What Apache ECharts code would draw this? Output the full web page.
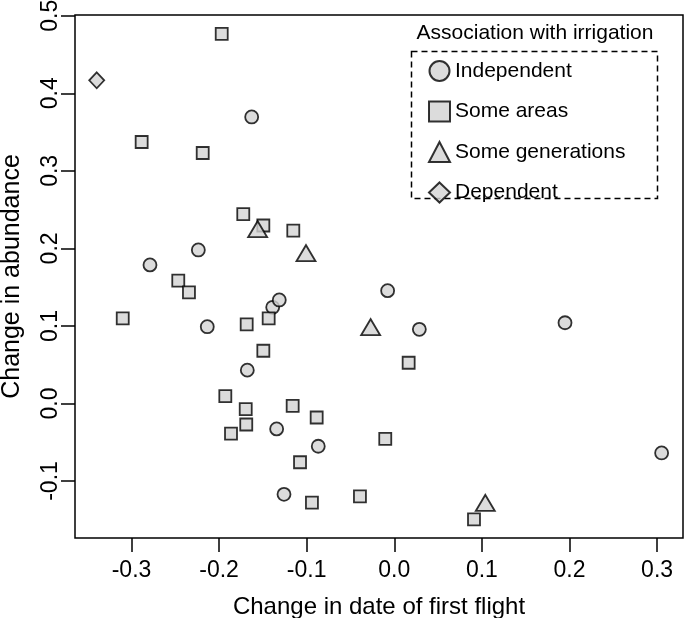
<!DOCTYPE html>
<html>
<head>
<meta charset="utf-8">
<script src="https://cdn.jsdelivr.net/npm/echarts@6/dist/echarts.min.js"></script>
<style>
html,body{margin:0;padding:0;background:#fff;}
#chart{width:685px;height:618px;}
</style>
</head>
<body>
<div id="chart"></div>
<script>
// ---- data (x = change in date of first flight, y = change in abundance) ----
const independent = [
  [-0.1628, 0.3695], [-0.2237, 0.198], [-0.2789, 0.1787], [-0.2135, 0.099],
  [-0.1388, 0.124], [-0.1313, 0.1335], [-0.1678, 0.043], [-0.1343, -0.0328],
  [-0.0868, -0.0552], [-0.1259, -0.1172], [-0.0076, 0.1455], [0.0286, 0.0956],
  [0.1949, 0.1041], [0.3052, -0.0638]
];
const someAreas = [
  [-0.197, 0.4767], [-0.2884, 0.3372], [-0.2187, 0.323], [-0.1724, 0.2442],
  [-0.1495, 0.2295], [-0.1153, 0.223], [-0.2466, 0.1584], [-0.2344, 0.1434],
  [-0.310, 0.1098], [-0.1685, 0.102], [-0.1434, 0.1098], [-0.1495, 0.068],
  [-0.1929, 0.0094], [-0.1696, -0.0074], [-0.169, -0.0271], [-0.1864, -0.0388],
  [-0.116, -0.0031], [-0.0886, -0.0181], [-0.1076, -0.0758], [-0.094, -0.128],
  [0.0164, 0.0525], [-0.0103, -0.0457], [-0.0392, -0.1198], [0.091, -0.1495]
];
const someGenerations = [
  [-0.156, 0.221], [-0.1008, 0.190], [-0.0270, 0.0946], [0.1039, -0.132]
];
const dependent = [
  [-0.3397, 0.4168]
];
const groupNames = ['Independent', 'Some areas', 'Some generations', 'Dependent'];
const xTicks = [-0.3, -0.2, -0.1, 0.0, 0.1, 0.2, 0.3];
const yTicks = [-0.1, 0.0, 0.1, 0.2, 0.3, 0.4, 0.5];
const xTitle = 'Change in date of first flight';
const yTitle = 'Change in abundance';
const legendTitle = 'Association with irrigation';

// ---- styling ----
const FONT = '"Liberation Sans", Arial, Helvetica, sans-serif';
const FILL = '#d3d3d3';
const pointStyle = { color: FILL, borderColor: '#000', borderWidth: 1.8 };

const chart = echarts.init(document.getElementById('chart'), null, { renderer: 'canvas' });

function scatter(name, data, symbol, size, offset) {
  return {
    name: name, type: 'scatter', data: data,
    symbol: symbol, symbolSize: size, symbolOffset: offset || [0, 0],
    itemStyle: pointStyle,
    emphasis: { disabled: true },
    animation: false
  };
}

const fmt = v => (Math.abs(v) < 1e-9 ? 0 : v).toFixed(1);

chart.setOption({
  animation: false,
  textStyle: { fontFamily: FONT },
  grid: {
    left: 75, right: 2, top: 15, bottom: 80,
    containLabel: false, outerBoundsMode: 'none',
    show: true, borderColor: '#000', borderWidth: 1.5, backgroundColor: 'transparent'
  },
  xAxis: {
    type: 'value', min: -0.3645, max: 0.3296,
    splitLine: { show: false },
    axisLine: { show: false, onZero: false },
    axisTick: { show: true, inside: false, length: 14, lineStyle: { color: '#000', width: 1.5 }, customValues: xTicks },
    axisLabel: {
      customValues: xTicks, formatter: fmt, margin: 21,
      fontSize: 23, lineHeight: 23, color: '#000', fontFamily: FONT
    },
    name: xTitle, nameLocation: 'middle', nameGap: 57,
    nameTextStyle: { fontSize: 24, color: '#000', fontFamily: FONT, lineHeight: 24 }
  },
  yAxis: {
    type: 'value', min: -0.1735, max: 0.501,
    splitLine: { show: false },
    axisLine: { show: false, onZero: false },
    axisTick: { show: true, inside: false, length: 14, lineStyle: { color: '#000', width: 1.5 }, customValues: yTicks },
    axisLabel: {
      customValues: yTicks, formatter: fmt, margin: 13, rotate: 90,
      fontSize: 23, lineHeight: 23, color: '#000', fontFamily: FONT
    },
    name: yTitle, nameLocation: 'middle', nameGap: 50, nameRotate: 90,
    nameTextStyle: { fontSize: 25, color: '#000', fontFamily: FONT, lineHeight: 25 }
  },
  legend: {
    data: groupNames, orient: 'vertical', left: 428, top: 60,
    padding: 0, itemWidth: 21, itemHeight: 20, itemGap: 18.5,
    textStyle: { fontSize: 21, lineHeight: 20, color: '#000', fontFamily: FONT },
    selectedMode: false
  },
  graphic: [
    {
      type: 'text', x: 535, y: 33,
      style: { text: legendTitle, align: 'center', verticalAlign: 'middle',
               font: '21px ' + FONT, fill: '#000' }
    },
    {
      type: 'rect',
      shape: { x: 411.5, y: 51.5, width: 246, height: 147 },
      style: { fill: 'none', stroke: '#000', lineWidth: 1.5, lineDash: [6, 4] }
    }
  ],
  series: [
    scatter(groupNames[0], independent, 'circle', 13),
    scatter(groupNames[1], someAreas, 'rect', 12),
    scatter(groupNames[2], someGenerations, 'triangle', [19, 16], [0, -3]),
    scatter(groupNames[3], dependent, 'diamond', [15, 16])
  ]
});
</script>
</body>
</html>
